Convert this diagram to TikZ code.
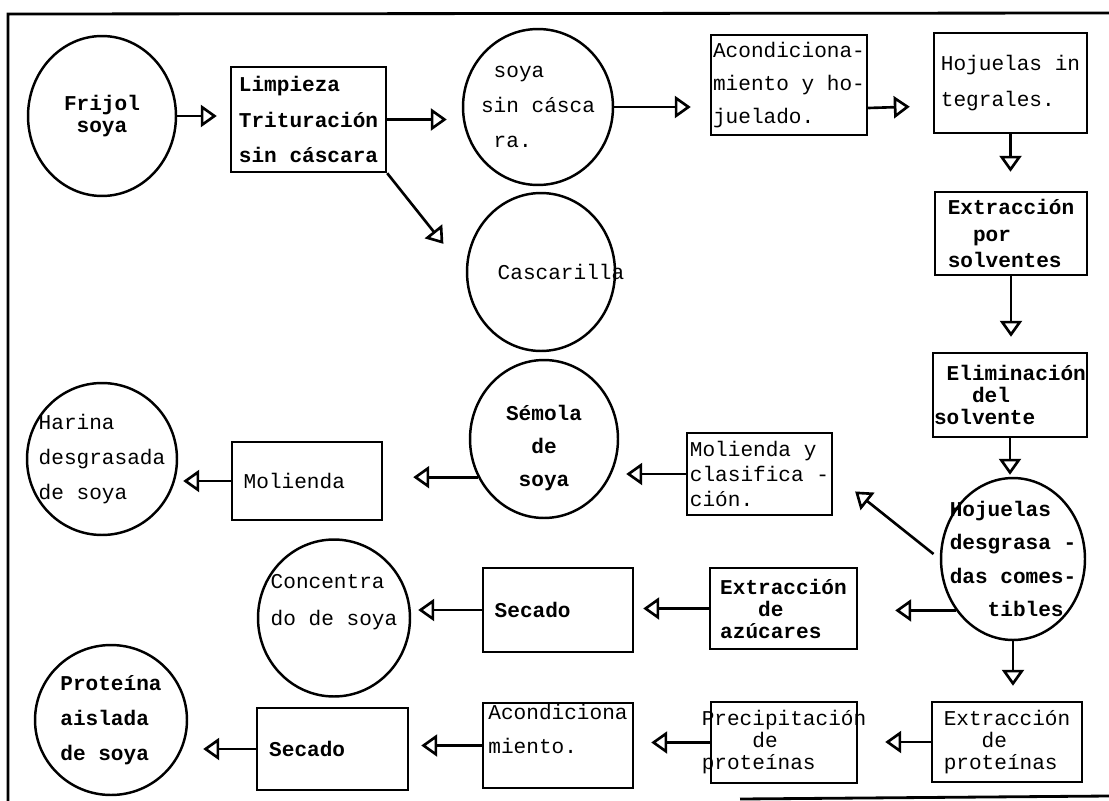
\documentclass[tikz,border=0pt]{standalone}
\usepackage{fontspec}
\setmonofont{Liberation Mono}
\usetikzlibrary{arrows.meta,shapes.geometric}

\begin{document}
\begin{tikzpicture}[
    x=0.02cm, y=-0.02cm,
    txt/.style={font=\ttfamily\fontsize{12}{#1}\selectfont},
    txt/.default=20,
    btxt/.style={font=\ttfamily\bfseries\fontsize{12}{#1}\selectfont},
    btxt/.default=20,
    box/.style={draw, line width=1.4pt, inner xsep=-0.2cm, inner ysep=0pt, align=left},
    prod/.style={draw, ellipse, line width=1.4pt, inner sep=-0.8cm, align=left},
    arrow/.style={-{Triangle[open, length=0.32cm, width=0.44cm]}, line width=1.5pt, shorten >=0.3cm}
]
\useasboundingbox (0,0) rectangle (1109,801);
\draw[line width=1.6pt] (1109,13) -- (8,14) -- (8,801);
\draw[line width=1.6pt] (740,799) -- (1109,796);

% first row
\node[prod, btxt=13, align=center, minimum width=2.96cm, minimum height=3.2cm] at (102,116) (frijol) {Frijol\\soya};
\node[box, btxt, minimum width=3.1cm, minimum height=2.1cm] at (308.5,119.5) (limp) {Limpieza\\Trituración\\sin cáscara};
\node[prod, txt, minimum width=3cm, minimum height=3.12cm] at (538,107) (soyasin) {\hphantom{s}soya\\sin cásca\\\hphantom{s}ra.};
\node[prod, txt, minimum width=2.96cm, minimum height=3.16cm] at (541,272) (casc) {\hspace*{0.8cm}Cascarilla};
\node[box, txt=19, minimum width=3.12cm, minimum height=2cm] at (789,85) (acond) {Acondiciona-\\miento y ho-\\juelado.};
\node[box, txt=21, minimum width=3.06cm, minimum height=2cm] at (1010.5,83) (hojint) {Hojuelas in\\tegrales.};

% right column
\node[box, btxt=15, minimum width=3.04cm, minimum height=1.66cm] at (1011,233.5) (extsolv) {Extracción\\\hphantom{xx}por\\solventes};
\node[box, btxt=12.5, minimum width=3.08cm, minimum height=1.68cm] at (1010,395) (elim) {\hphantom{E}Eliminación\\\hphantom{xxx}del\\solvente};
\node[prod, btxt=19, minimum width=2.88cm, minimum height=3.24cm] at (1013,559) (hojdes) {Hojuelas\\desgrasa -\\das comes-\\\hphantom{xxx}tibles};
\node[box, txt=12.5, minimum width=3cm, minimum height=1.6cm] at (1007,742) (extprot) {Extracción\\\hphantom{xxx}de\\proteínas};

% harina row
\node[box, txt=14, minimum width=2.9cm, minimum height=1.64cm] at (759.5,474) (molclas) {Molienda y\\clasifica -\\ción.};
\node[prod, btxt=19, align=center, minimum width=2.96cm, minimum height=3.16cm] at (544,439) (semola) {\mbox{}\\Sémola\\de\\soya};
\node[box, txt, minimum width=3cm, minimum height=1.56cm] at (307,481) (molienda) {Molienda\hphantom{xx}};
\node[prod, txt, minimum width=3cm, minimum height=3.04cm] at (102,459) (harina) {Harina\\desgrasada\\de soya};

% concentrado row
\node[box, btxt=12.5, minimum width=2.94cm, minimum height=1.62cm] at (783.5,608.5) (extazu) {Extracción\\\hphantom{xxx}de\\azúcares};
\node[box, btxt, minimum width=3cm, minimum height=1.68cm] at (558,610) (secado1) {Secado\hphantom{xxxx}};
\node[prod, txt=21, minimum width=3.04cm, minimum height=3.14cm] at (334,618) (conc) {Concentra\\do de soya\\\mbox{}};

% aislado row
\node[box, txt=12.5, minimum width=2.92cm, minimum height=1.62cm] at (784,742.5) (precip) {Precipitación\\\hphantom{xxxx}de\\proteínas};
\node[box, txt=19, minimum width=3cm, minimum height=1.7cm] at (558,745.5) (acond2) {Acondiciona\\miento.\\\mbox{}};
\node[box, btxt, minimum width=3.02cm, minimum height=1.64cm] at (332.5,749) (secado2) {Secado\hphantom{xxxx}};
\node[prod, btxt, minimum width=3.04cm, minimum height=3cm] at (111,720) (proteina) {Proteína\\aislada\\de soya};

\draw[arrow, shorten >=0.26cm] (frijol.east) -- (frijol.east -| limp.west);
\draw[arrow] (limp.east) -- (limp.east -| soyasin.west);
\draw[arrow, shorten >=0.72cm] (limp.south east) -- (casc.west);
\draw[arrow, shorten >=0.38cm] (soyasin.east) -- (soyasin.east -| acond.west);
\draw[arrow, shorten >=0.46cm] ([yshift=-0.46cm]acond.east) -- ([yshift=-0.46cm]hojint.west);
\draw[arrow, shorten >=0.38cm] (hojint.south) -- (hojint.south |- extsolv.north);
\draw[arrow] (extsolv.south) -- (extsolv.south |- elim.north);
\draw[arrow, shorten >=0.04cm] (elim.south) -- (elim.south |- hojdes.north);
\draw[arrow, shorten <=0.16cm, shorten >=0.56cm] (hojdes.west) -- (molclas.east);
\draw[arrow, shorten >=0.14cm] (molclas.west) -- (molclas.west -| semola.east);
\draw[arrow, shorten >=0.6cm] (semola.210) -- (semola.210 -| molienda.east);
\draw[arrow, shorten >=0.1cm] (molienda.west) -- (molienda.west -| harina.east);
\draw[arrow, shorten >=0.74cm] (hojdes.222) -- (hojdes.222 -| extazu.east);
\draw[arrow, shorten >=0.18cm] (extazu.west) -- (extazu.west -| secado1.east);
\draw[arrow, shorten >=0.14cm] (secado1.west) -- (secado1.west -| conc.east);
\draw[arrow] (hojdes.south) -- (hojdes.south |- extprot.north);
\draw[arrow, shorten >=0.54cm] (extprot.west) -- (extprot.west -| precip.east);
\draw[arrow, shorten >=0.34cm] (precip.west) -- (precip.west -| acond2.east);
\draw[arrow, shorten >=0.24cm] (acond2.west) -- (acond2.west -| secado2.east);
\draw[arrow] (secado2.west) -- (secado2.west -| proteina.east);
\end{tikzpicture}
\end{document}
